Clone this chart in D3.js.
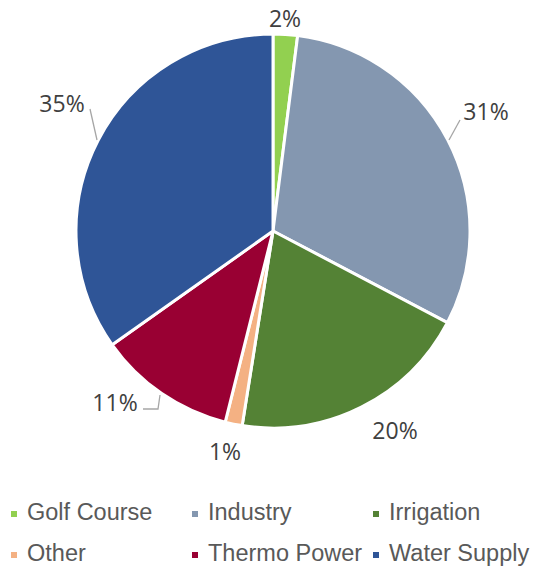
<!DOCTYPE html>
<html><head><meta charset="utf-8">
<script src="https://cdn.jsdelivr.net/npm/d3@7"></script>
<style>html,body{margin:0;padding:0;background:#fff;}svg{display:block;}</style>
</head><body>
<svg id="chart" width="537" height="569"></svg>
<script>
const categories = ["Golf Course", "Industry", "Irrigation", "Other", "Thermo Power", "Water Supply"];
const values = [2.0, 30.7, 19.8, 1.4, 11.3, 34.8];
const colors = ["#92D050", "#8497B0", "#548235", "#F4B183", "#990033", "#2F5597"];
// label offsets from pie centre (layout)
const labelOffsets = [[12, -213], [213, -120], [122, 199], [-48, 220], [-158, 171], [-211, -128]];

const svg = d3.select("#chart");
const cx = 273, cy = 231, R = 197;
const g = svg.append("g").attr("transform", `translate(${cx},${cy})`);
const pie = d3.pie().sort(null).value(d => d)(values);
const arc = d3.arc().innerRadius(0).outerRadius(R);
g.selectAll("path.slice").data(pie).join("path")
  .attr("class", "slice")
  .attr("d", arc)
  .attr("fill", (d, i) => colors[i])
  .attr("stroke", "#fff").attr("stroke-width", 3).attr("stroke-linejoin", "round");

// leader lines
const leaders = [
  [[176, -91], [187, -111]],
  [[-176, -91], [-183, -122]],
  [[-113, 164], [-115, 178], [-130, 178]]
];
leaders.forEach(pts => {
  g.append("path").attr("d", d3.line()(pts)).attr("fill", "none")
    .attr("stroke", "#A6A6A6").attr("stroke-width", 1.3);
});

g.selectAll("text.lbl").data(pie).join("text")
  .attr("class", "lbl")
  .attr("x", (d, i) => labelOffsets[i][0])
  .attr("y", (d, i) => labelOffsets[i][1])
  .attr("text-anchor", "middle").attr("dominant-baseline", "central")
  .attr("font-family", "'Open Sans', sans-serif").attr("font-size", 23)
  .attr("fill", "#404040")
  .text(d => Math.round(d.value) + "%");

// legend
const legX = [11, 192, 373], legY = [520, 561];
const leg = svg.append("g");
categories.forEach((c, i) => {
  const x = legX[i % 3], y = legY[Math.floor(i / 3)];
  leg.append("rect").attr("x", x).attr("y", y - 9).attr("width", 6).attr("height", 6).attr("fill", colors[i]);
  leg.append("text").attr("x", x + 16).attr("y", y)
    .attr("font-family", "Liberation Sans, Arial, sans-serif").attr("font-size", 23.5)
    .attr("fill", "#595959").text(c);
});
</script>
</body></html>
